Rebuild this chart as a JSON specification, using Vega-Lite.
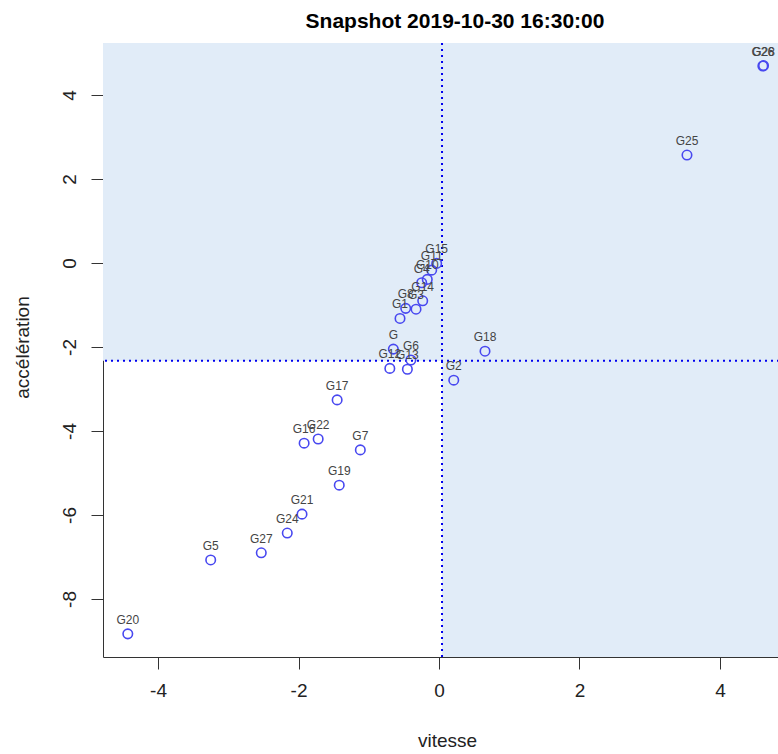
{
  "$schema": "https://vega.github.io/schema/vega-lite/v6.json",
  "autosize": "none",
  "width": 676,
  "height": 614,
  "padding": {"left": 103, "top": 43, "right": 0, "bottom": 97},
  "background": "white",
  "title": {"text": "Snapshot 2019-10-30 16:30:00", "font": "Liberation Sans", "fontSize": 21, "fontWeight": "bold", "color": "#000", "anchor": "middle", "frame": "group", "dx": 14, "baseline": "alphabetic", "offset": 17, "dy": 23},
  "config": {
    "view": {"stroke": "#333", "strokeWidth": 1},
    "axis": {"grid": false, "domain": false, "tickColor": "#333", "tickSize": 12, "tickWidth": 1, "labelFont": "Liberation Sans", "labelFontSize": 19, "labelColor": "#222", "titleFont": "Liberation Sans", "titleFontSize": 19, "titleFontWeight": "normal", "titleColor": "#222", "labelExpr": "datum.value + ''"}
  },
  "datasets": {
    "points": [
      {"name": "G26", "vitesse": 4.61, "acceleration": 4.69},
      {"name": "G28", "vitesse": 4.62, "acceleration": 4.70},
      {"name": "G25", "vitesse": 3.53, "acceleration": 2.57},
      {"name": "G18", "vitesse": 0.655, "acceleration": -2.10},
      {"name": "G2", "vitesse": 0.21, "acceleration": -2.79},
      {"name": "G12", "vitesse": -0.70, "acceleration": -2.51},
      {"name": "G13", "vitesse": -0.45, "acceleration": -2.53},
      {"name": "G6", "vitesse": -0.40, "acceleration": -2.31},
      {"name": "G", "vitesse": -0.65, "acceleration": -2.05},
      {"name": "G1", "vitesse": -0.555, "acceleration": -1.32},
      {"name": "G8", "vitesse": -0.474, "acceleration": -1.08},
      {"name": "G3", "vitesse": -0.327, "acceleration": -1.10},
      {"name": "G14", "vitesse": -0.232, "acceleration": -0.90},
      {"name": "G4", "vitesse": -0.246, "acceleration": -0.47},
      {"name": "G10", "vitesse": -0.167, "acceleration": -0.39},
      {"name": "G11", "vitesse": -0.104, "acceleration": -0.17},
      {"name": "G15", "vitesse": -0.033, "acceleration": -0.01},
      {"name": "G17", "vitesse": -1.45, "acceleration": -3.26},
      {"name": "G16", "vitesse": -1.92, "acceleration": -4.29},
      {"name": "G22", "vitesse": -1.72, "acceleration": -4.19},
      {"name": "G7", "vitesse": -1.12, "acceleration": -4.45},
      {"name": "G19", "vitesse": -1.42, "acceleration": -5.29},
      {"name": "G21", "vitesse": -1.95, "acceleration": -5.98},
      {"name": "G24", "vitesse": -2.16, "acceleration": -6.43},
      {"name": "G27", "vitesse": -2.53, "acceleration": -6.90},
      {"name": "G5", "vitesse": -3.25, "acceleration": -7.07},
      {"name": "G20", "vitesse": -4.43, "acceleration": -8.83}
    ],
    "zones": [
      {"x1": -10, "x2": 0.043, "y1": -2.33, "y2": 10},
      {"x1": 0.043, "x2": 10, "y1": -10, "y2": 10}
    ],
    "seuils": [
      {"vitesse": 0.043, "acceleration": -2.33}
    ]
  },
  "layer": [
    {
      "data": {"name": "zones"},
      "mark": {"type": "rect", "fill": "#e1ecf8", "stroke": null, "clip": true},
      "encoding": {
        "x": {"field": "x1", "type": "quantitative", "scale": {"domain": [-4.783, 4.84], "nice": false, "zero": false}, "axis": {"values": [-4, -2, 0, 2, 4], "labelPadding": 12, "title": "vitesse", "titleX": 344, "titleY": 83, "titleBaseline": "middle", "titleAlign": "center"}},
        "x2": {"field": "x2"},
        "y": {"field": "y1", "type": "quantitative", "scale": {"domain": [-9.381, 5.238], "nice": false, "zero": false}, "axis": {"values": [-8, -6, -4, -2, 0, 2, 4], "labelAngle": -90, "labelAlign": "center", "labelBaseline": "bottom", "labelPadding": 12, "title": "accélération", "titleX": -81, "titleY": 304, "titleBaseline": "middle", "titleAlign": "center", "titleAngle": -90}},
        "y2": {"field": "y2"}
      }
    },
    {
      "data": {"name": "seuils"},
      "mark": {"type": "rule", "color": "#0000ee", "strokeWidth": 2, "strokeDash": [2, 4], "clip": true},
      "encoding": {
        "x": {"field": "vitesse", "type": "quantitative"}
      }
    },
    {
      "data": {"name": "seuils"},
      "mark": {"type": "rule", "color": "#0000ee", "strokeWidth": 2, "strokeDash": [2, 4], "clip": true},
      "encoding": {
        "y": {"field": "acceleration", "type": "quantitative"}
      }
    },
    {
      "data": {"name": "points"},
      "mark": {"type": "point", "shape": "circle", "filled": false, "stroke": "#4848f0", "strokeWidth": 1.6, "size": 90, "opacity": 1},
      "encoding": {
        "x": {"field": "vitesse", "type": "quantitative"},
        "y": {"field": "acceleration", "type": "quantitative"}
      }
    },
    {
      "data": {"name": "points"},
      "mark": {"type": "text", "font": "Liberation Sans", "fontSize": 12, "color": "#444", "baseline": "middle", "align": "center", "dy": -14},
      "encoding": {
        "x": {"field": "vitesse", "type": "quantitative"},
        "y": {"field": "acceleration", "type": "quantitative"},
        "text": {"field": "name"}
      }
    }
  ]
}
